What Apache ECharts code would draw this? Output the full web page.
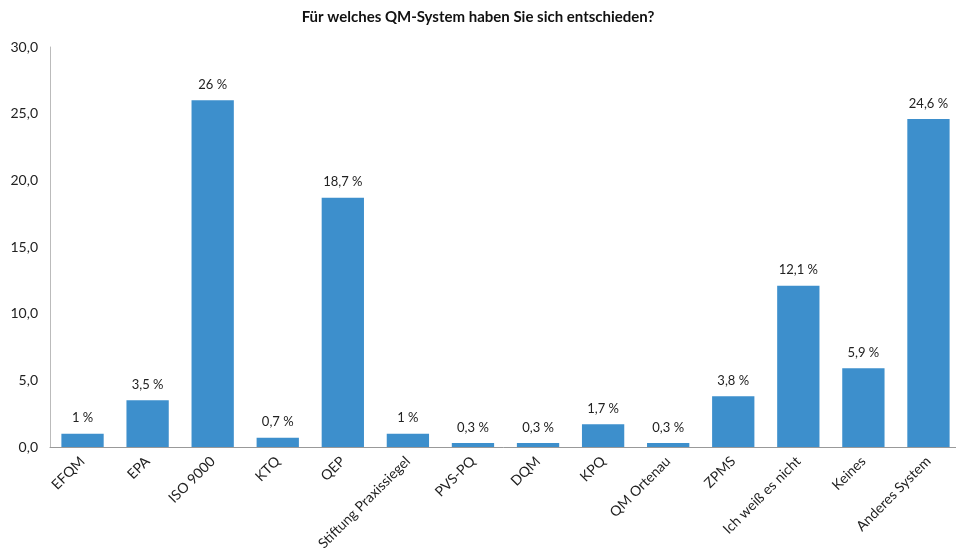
<!DOCTYPE html>
<html>
<head>
<meta charset="utf-8">
<script src="https://cdn.jsdelivr.net/npm/echarts@6/dist/echarts.min.js"></script>
<style>
  html, body { margin: 0; padding: 0; background: #fff; }
  #chart { width: 956px; height: 560px; }
</style>
</head>
<body>
<div id="chart"></div>
<script>
var categories = ['EFQM', 'EPA', 'ISO 9000', 'KTQ', 'QEP', 'Stiftung Praxissiegel', 'PVS-PQ',
    'DQM', 'KPQ', 'QM Ortenau', 'ZPMS', 'Ich weiß es nicht', 'Keines', 'Anderes System'];
var values = [1, 3.5, 26, 0.7, 18.7, 1, 0.3, 0.3, 1.7, 0.3, 3.8, 12.1, 5.9, 24.6];
var valueLabels = ['1 %', '3,5 %', '26 %', '0,7 %', '18,7 %', '1 %', '0,3 %', '0,3 %', '1,7 %',
    '0,3 %', '3,8 %', '12,1 %', '5,9 %', '24,6 %'];

var myChart = echarts.init(document.getElementById('chart'));
var font = 'Lato, "Open Sans", sans-serif';

var option = {
    title: {
        text: 'Für welches QM-System haben Sie sich entschieden?',
        left: 'center',
        top: 5,
        textStyle: { fontFamily: font, fontSize: 15, fontWeight: 'bold', color: '#111' }
    },
    grid: { left: 50, right: -5, top: 47, bottom: 113, outerBoundsMode: 'none', containLabel: false },
    xAxis: {
        type: 'category',
        data: categories,
        axisLine: { lineStyle: { color: '#999' } },
        axisTick: { show: false },
        axisLabel: {
            rotate: 45,
            interval: 0,
            margin: 12,
            fontFamily: font,
            fontSize: 14,
            color: '#222'
        }
    },
    yAxis: {
        type: 'value',
        min: 0,
        max: 30,
        interval: 5,
        splitLine: { show: false },
        axisLine: { show: true, lineStyle: { color: '#bbb' } },
        axisTick: { show: false },
        axisLabel: {
            margin: 12,
            fontFamily: font,
            fontSize: 14,
            color: '#222',
            formatter: function (v) { return v.toFixed(1).replace('.', ','); }
        }
    },
    series: [{
        type: 'bar',
        data: values,
        barCategoryGap: '35%',
        itemStyle: { color: '#3d8fcc' },
        label: {
            show: true,
            position: 'top',
            distance: 9,
            fontFamily: font,
            fontSize: 13,
            color: '#222',
            formatter: function (p) { return valueLabels[p.dataIndex]; }
        }
    }]
};

myChart.setOption(option);
</script>
</body>
</html>
